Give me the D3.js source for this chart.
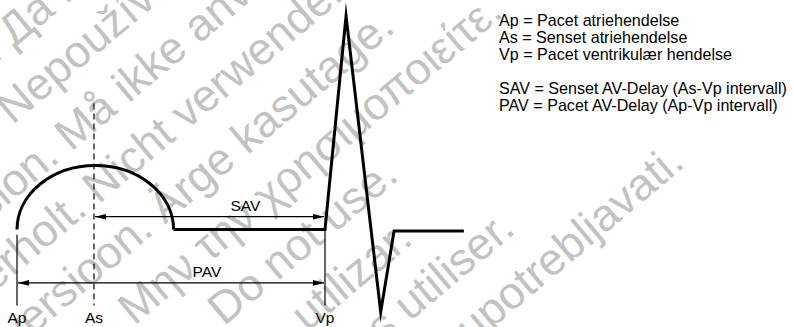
<!DOCTYPE html>
<html><head><meta charset="utf-8">
<script src="https://cdn.jsdelivr.net/npm/d3@7"></script>
<style>body{margin:0;background:#fff}svg{display:block}</style>
</head><body><div id="chart"></div>
<script>
// ---- data ----
const eventNames = ["Ap", "As", "Vp"];
const eventTimes = [0, 30, 120];            // ms
const pWaveTimes = [0, 61];                  // P wave start / end (ms)
const pWaveAmp = 0.6;                        // mV
const qrsTimes = [61, 120, 128.2, 141.7, 146.9, 174.1];
const qrsAmps  = [0, 0, 2.0, -0.773, -0.015, -0.015];
const intervalNames = ["SAV", "PAV"];
const intervalFrom  = [30, 0];
const intervalTo    = [120, 120];
const intervalLevel = [0.12, -0.5];
const intervalLabelAt = [89, 74];
const legendLines = [
  "Ap = Pacet atriehendelse",
  "As = Senset atriehendelse",
  "Vp = Pacet ventrikulær hendelse",
  "",
  "SAV = Senset AV-Delay (As-Vp intervall)",
  "PAV = Pacet AV-Delay (Ap-Vp intervall)"
];
const watermarkLines = [
  "Остаряла версия. Да не се използва.",
  "Zastaralá verze. Nepoužívat.",
  "Forældet version. Må ikke anvendes.",
  "Version überholt. Nicht verwenden.",
  "Aegunud versioon. Ärge kasutage.",
  "Παλιά έκδοση. Μην την χρησιμοποιείτε.",
  "Outdated version. Do not use.",
  "Versión obsoleta. No utilizar.",
  "Version obsolète. Ne pas utiliser.",
  "Zastarjela verzija. Nemojte upotrebljavati."
];

// ---- layout ----
const W = 793, H = 327;
const svg = d3.select("#chart").append("svg").attr("width", W).attr("height", H);
const x = d3.scaleLinear().domain([0, 120]).range([17, 325]);
const y = d3.scaleLinear().domain([0, 2]).range([229.5, 16]);

// watermark
const wm = svg.append("g").attr("transform", "rotate(-40)")
  .attr("font-family", "Liberation Sans, Arial, sans-serif").attr("font-size", 45).attr("fill", "#c2c2c2");
wm.selectAll("text").data(watermarkLines).join("text")
  .attr("x", -406).attr("y", (d, i) => 394 + 58 * (i - 6)).text(d => d);

// arrow markers
const defs = svg.append("defs");
["start", "end"].forEach(k => {
  defs.append("marker").attr("id", "arr-" + k)
    .attr("markerUnits", "userSpaceOnUse")
    .attr("markerWidth", 12).attr("markerHeight", 7)
    .attr("refX", k === "end" ? 11 : 0).attr("refY", 3.5)
    .attr("orient", "auto")
    .append("path")
    .attr("d", k === "end" ? "M0,0.7 L11,3.5 L0,6.3 Z" : "M11,0.7 L0,3.5 L11,6.3 Z")
    .attr("fill", "#000");
});

// event marker lines
const markerTop = [-0.05, 1.18, 0];
const markerBottom = 305.5;
const ev = svg.append("g");
eventNames.forEach((n, i) => {
  ev.append("line")
    .attr("x1", x(eventTimes[i])).attr("x2", x(eventTimes[i]))
    .attr("y1", y(markerTop[i])).attr("y2", markerBottom)
    .attr("stroke", "#000").attr("stroke-width", 1.2)
    .attr("stroke-dasharray", n === "As" ? "6,4" : null);
  ev.append("text")
    .attr("x", x(eventTimes[i])).attr("y", 323)
    .attr("text-anchor", "middle")
    .attr("font-family", "Liberation Sans, Arial, sans-serif").attr("font-size", 15.5)
    .text(n);
});

// interval arrows
intervalNames.forEach((n, i) => {
  svg.append("line")
    .attr("x1", x(intervalFrom[i]) + 1).attr("x2", x(intervalTo[i]) - 1)
    .attr("y1", y(intervalLevel[i])).attr("y2", y(intervalLevel[i]))
    .attr("stroke", "#000").attr("stroke-width", 1.2)
    .attr("marker-start", "url(#arr-start)").attr("marker-end", "url(#arr-end)");
  svg.append("text")
    .attr("x", x(intervalLabelAt[i])).attr("y", y(intervalLevel[i]) - 6)
    .attr("text-anchor", "middle")
    .attr("font-family", "Liberation Sans, Arial, sans-serif").attr("font-size", 15.5)
    .text(n);
});

// P wave (half ellipse)
const px0 = x(pWaveTimes[0]), px1 = x(pWaveTimes[1]);
const rx = (px1 - px0) / 2, ry = y(0) - y(pWaveAmp);
svg.append("path")
  .attr("d", `M${px0},${y(0)} A${rx},${ry} 0 0 1 ${px1},${y(0)}`)
  .attr("fill", "none").attr("stroke", "#000").attr("stroke-width", 3);

// baseline + QRS
const line = d3.line().x(d => x(d[0])).y(d => y(d[1]));
svg.append("path")
  .datum(qrsTimes.map((t, i) => [t, qrsAmps[i]]))
  .attr("d", line)
  .attr("fill", "none").attr("stroke", "#000").attr("stroke-width", 3)
  .attr("stroke-linejoin", "miter").attr("stroke-miterlimit", 20);

// legend
svg.append("g").selectAll("text").data(legendLines).join("text")
  .attr("x", 499).attr("y", (d, i) => 25.5 + 17 * i)
  .attr("font-family", "Liberation Sans, Arial, sans-serif").attr("font-size", 16.1)
  .text(d => d);
</script></body></html>
